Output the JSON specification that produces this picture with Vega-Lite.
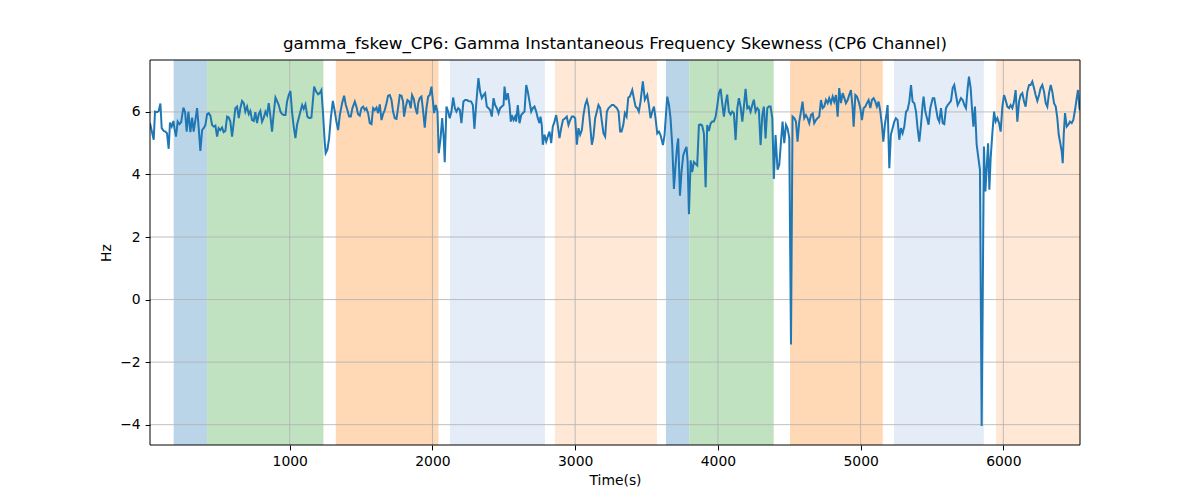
{
  "$schema": "https://vega.github.io/schema/vega-lite/v6.json",
  "description": "Gamma instantaneous frequency skewness, CP6 channel, with condition spans.",
  "width": 930,
  "height": 385,
  "autosize": {"type": "none"},
  "padding": {"left": 150, "top": 60, "right": 120, "bottom": 55},
  "title": {
    "text": "gamma_fskew_CP6: Gamma Instantaneous Frequency Skewness (CP6 Channel)",
    "font": "DejaVu Sans",
    "fontSize": 16.7,
    "fontWeight": "normal",
    "color": "black",
    "anchor": "middle",
    "offset": 7
  },
  "config": {
    "view": {"stroke": null},
    "axis": {
      "grid": false,
      "domain": false,
      "tickColor": "black",
      "tickSize": 4.9,
      "labelPadding": 4.9,
      "labelFont": "DejaVu Sans",
      "labelFontSize": 13.9,
      "labelColor": "black",
      "titleFont": "DejaVu Sans",
      "titleFontSize": 13.9,
      "titleFontWeight": "normal",
      "titleColor": "black"
    }
  },
  "layer": [
    {
      "data": {
        "values": [
          {"start": 187, "end": 421, "condition": "A"},
          {"start": 421, "end": 1236, "condition": "B"},
          {"start": 1323, "end": 2042, "condition": "C"},
          {"start": 2122, "end": 2788, "condition": "D"},
          {"start": 2858, "end": 3573, "condition": "E"},
          {"start": 3636, "end": 3799, "condition": "A"},
          {"start": 3799, "end": 4391, "condition": "B"},
          {"start": 4505, "end": 5155, "condition": "C"},
          {"start": 5234, "end": 5863, "condition": "D"},
          {"start": 5949, "end": 6537, "condition": "E"}
        ]
      },
      "mark": {"type": "rect", "clip": true},
      "encoding": {
        "x": {"field": "start", "type": "quantitative", "title": "Time(s)",
              "scale": {"domain": [21, 6537], "nice": false, "zero": false},
              "axis": {"values": [1000, 2000, 3000, 4000, 5000, 6000], "format": "d", "titlePadding": 5}},
        "x2": {"field": "end"},
        "color": {
          "field": "condition", "type": "nominal", "legend": null,
          "scale": {"domain": ["A", "B", "C", "D", "E"],
                    "range": ["#bbd5e8", "#c0e2c0", "#ffd8b6", "#e4ecf7", "#ffe9d6"]}
        }
      }
    },
    {
      "data": {"values": [{"t": 1000}, {"t": 2000}, {"t": 3000}, {"t": 4000}, {"t": 5000}, {"t": 6000}]},
      "mark": {"type": "rule", "color": "#b0b0b0", "strokeWidth": 0.8},
      "encoding": {
        "x": {"field": "t", "type": "quantitative", "title": "Time(s)"}
      }
    },
    {
      "data": {"values": [{"v": -4}, {"v": -2}, {"v": 0}, {"v": 2}, {"v": 4}, {"v": 6}]},
      "mark": {"type": "rule", "color": "#b0b0b0", "strokeWidth": 0.8},
      "encoding": {
        "y": {"field": "v", "type": "quantitative", "title": "Hz",
              "scale": {"domain": [-4.65, 7.66], "nice": false, "zero": false},
              "axis": {"values": [-4, -2, 0, 2, 4, 6], "titlePadding": 6,
                       "labelExpr": "replace(datum.label, '-', '\u2212')"}}
      }
    },
    {
      "data": {
        "values": [
          {"t": 21, "hz": 5.64}, {"t": 47, "hz": 5.11}, {"t": 56, "hz": 6.01}, {"t": 70, "hz": 5.99}, {"t": 82, "hz": 6.03},
          {"t": 94, "hz": 6.27}, {"t": 103, "hz": 5.48}, {"t": 117, "hz": 5.39}, {"t": 129, "hz": 5.37}, {"t": 140, "hz": 5.32},
          {"t": 152, "hz": 4.82}, {"t": 161, "hz": 5.66}, {"t": 173, "hz": 5.53}, {"t": 185, "hz": 5.71}, {"t": 192, "hz": 5.48},
          {"t": 203, "hz": 5.21}, {"t": 215, "hz": 5.69}, {"t": 227, "hz": 5.61}, {"t": 239, "hz": 5.67}, {"t": 255, "hz": 6.14},
          {"t": 267, "hz": 5.99}, {"t": 278, "hz": 5.37}, {"t": 290, "hz": 6.01}, {"t": 304, "hz": 5.35}, {"t": 316, "hz": 5.82},
          {"t": 327, "hz": 5.37}, {"t": 339, "hz": 5.74}, {"t": 351, "hz": 6.12}, {"t": 362, "hz": 5.50}, {"t": 374, "hz": 4.75},
          {"t": 386, "hz": 5.42}, {"t": 397, "hz": 5.48}, {"t": 409, "hz": 5.58}, {"t": 421, "hz": 5.93}, {"t": 432, "hz": 5.96},
          {"t": 444, "hz": 5.88}, {"t": 456, "hz": 5.58}, {"t": 467, "hz": 5.53}, {"t": 479, "hz": 5.56}, {"t": 491, "hz": 5.21},
          {"t": 502, "hz": 5.48}, {"t": 514, "hz": 5.42}, {"t": 526, "hz": 5.50}, {"t": 537, "hz": 5.35}, {"t": 549, "hz": 5.39},
          {"t": 561, "hz": 5.85}, {"t": 573, "hz": 5.82}, {"t": 584, "hz": 5.69}, {"t": 596, "hz": 5.21}, {"t": 608, "hz": 5.67},
          {"t": 619, "hz": 6.12}, {"t": 631, "hz": 6.17}, {"t": 643, "hz": 5.80}, {"t": 654, "hz": 6.12}, {"t": 666, "hz": 6.35},
          {"t": 678, "hz": 6.28}, {"t": 689, "hz": 6.01}, {"t": 701, "hz": 6.17}, {"t": 713, "hz": 5.93}, {"t": 724, "hz": 6.03},
          {"t": 736, "hz": 5.74}, {"t": 748, "hz": 5.71}, {"t": 759, "hz": 5.99}, {"t": 771, "hz": 5.64}, {"t": 783, "hz": 5.93},
          {"t": 794, "hz": 6.03}, {"t": 806, "hz": 5.69}, {"t": 818, "hz": 5.82}, {"t": 830, "hz": 6.01}, {"t": 841, "hz": 5.90},
          {"t": 853, "hz": 6.28}, {"t": 865, "hz": 5.85}, {"t": 876, "hz": 5.37}, {"t": 888, "hz": 5.96}, {"t": 900, "hz": 6.46},
          {"t": 911, "hz": 6.35}, {"t": 923, "hz": 6.22}, {"t": 935, "hz": 6.01}, {"t": 946, "hz": 5.93}, {"t": 958, "hz": 5.90},
          {"t": 970, "hz": 5.90}, {"t": 981, "hz": 6.33}, {"t": 993, "hz": 6.54}, {"t": 1005, "hz": 6.67}, {"t": 1016, "hz": 6.01},
          {"t": 1028, "hz": 5.53}, {"t": 1040, "hz": 5.16}, {"t": 1051, "hz": 5.58}, {"t": 1063, "hz": 5.80}, {"t": 1075, "hz": 6.01},
          {"t": 1087, "hz": 6.22}, {"t": 1098, "hz": 6.10}, {"t": 1110, "hz": 6.24},
          {"t": 1124, "hz": 5.85}, {"t": 1138, "hz": 5.80}, {"t": 1152, "hz": 5.82}, {"t": 1171, "hz": 6.81}, {"t": 1185, "hz": 6.65},
          {"t": 1199, "hz": 6.56}, {"t": 1210, "hz": 6.60}, {"t": 1222, "hz": 6.70}, {"t": 1234, "hz": 5.90}, {"t": 1245, "hz": 5.05},
          {"t": 1252, "hz": 4.68}, {"t": 1264, "hz": 4.79}, {"t": 1276, "hz": 5.16}, {"t": 1288, "hz": 5.80}, {"t": 1302, "hz": 6.35},
          {"t": 1316, "hz": 6.01}, {"t": 1327, "hz": 5.69}, {"t": 1339, "hz": 5.42}, {"t": 1351, "hz": 5.90}, {"t": 1367, "hz": 6.28},
          {"t": 1381, "hz": 6.52}, {"t": 1393, "hz": 6.22}, {"t": 1404, "hz": 6.06}, {"t": 1416, "hz": 5.85}, {"t": 1428, "hz": 5.85},
          {"t": 1439, "hz": 6.12}, {"t": 1456, "hz": 6.33}, {"t": 1467, "hz": 6.17}, {"t": 1479, "hz": 5.93}, {"t": 1491, "hz": 5.88},
          {"t": 1502, "hz": 6.12}, {"t": 1514, "hz": 6.17}, {"t": 1526, "hz": 6.06}, {"t": 1537, "hz": 6.12}, {"t": 1549, "hz": 5.96},
          {"t": 1561, "hz": 5.64}, {"t": 1573, "hz": 5.61}, {"t": 1584, "hz": 6.12}, {"t": 1596, "hz": 6.06}, {"t": 1608, "hz": 6.14},
          {"t": 1619, "hz": 5.96}, {"t": 1631, "hz": 6.24}, {"t": 1643, "hz": 5.74}, {"t": 1654, "hz": 5.93}, {"t": 1666, "hz": 6.06},
          {"t": 1678, "hz": 6.28}, {"t": 1689, "hz": 6.52}, {"t": 1701, "hz": 6.54}, {"t": 1713, "hz": 6.38}, {"t": 1724, "hz": 6.01},
          {"t": 1736, "hz": 5.80}, {"t": 1748, "hz": 5.78}, {"t": 1759, "hz": 6.12}, {"t": 1771, "hz": 6.54}, {"t": 1783, "hz": 6.52},
          {"t": 1794, "hz": 6.33}, {"t": 1801, "hz": 5.85}, {"t": 1813, "hz": 6.17}, {"t": 1825, "hz": 6.38}, {"t": 1837, "hz": 6.33},
          {"t": 1848, "hz": 6.12}, {"t": 1857, "hz": 6.54}, {"t": 1869, "hz": 6.42}, {"t": 1881, "hz": 6.12}, {"t": 1893, "hz": 5.93},
          {"t": 1900, "hz": 6.28}, {"t": 1911, "hz": 6.44}, {"t": 1923, "hz": 6.49}, {"t": 1935, "hz": 6.01}, {"t": 1946, "hz": 5.50},
          {"t": 1958, "hz": 6.12}, {"t": 1970, "hz": 6.49}, {"t": 1981, "hz": 6.54}, {"t": 1993, "hz": 6.81}, {"t": 2000, "hz": 6.49},
          {"t": 2012, "hz": 5.96}, {"t": 2023, "hz": 6.22}, {"t": 2035, "hz": 6.01}, {"t": 2044, "hz": 4.68}, {"t": 2056, "hz": 5.11},
          {"t": 2068, "hz": 5.80}, {"t": 2079, "hz": 5.16}, {"t": 2086, "hz": 4.39}, {"t": 2098, "hz": 6.17}, {"t": 2110, "hz": 6.01},
          {"t": 2121, "hz": 5.80}, {"t": 2133, "hz": 6.01}, {"t": 2145, "hz": 6.46}, {"t": 2157, "hz": 6.12}, {"t": 2168, "hz": 6.01},
          {"t": 2180, "hz": 6.12}, {"t": 2192, "hz": 6.06}, {"t": 2203, "hz": 5.64},
          {"t": 2217, "hz": 6.33}, {"t": 2229, "hz": 6.38}, {"t": 2241, "hz": 6.38}, {"t": 2252, "hz": 6.35}, {"t": 2271, "hz": 6.33},
          {"t": 2283, "hz": 6.22}, {"t": 2294, "hz": 5.46}, {"t": 2306, "hz": 6.22}, {"t": 2322, "hz": 7.08}, {"t": 2334, "hz": 6.65},
          {"t": 2346, "hz": 6.44}, {"t": 2358, "hz": 6.54}, {"t": 2369, "hz": 6.60}, {"t": 2381, "hz": 6.17}, {"t": 2393, "hz": 6.12},
          {"t": 2404, "hz": 6.06}, {"t": 2416, "hz": 5.85}, {"t": 2428, "hz": 6.44}, {"t": 2439, "hz": 6.22}, {"t": 2451, "hz": 6.12},
          {"t": 2463, "hz": 5.96}, {"t": 2474, "hz": 6.12}, {"t": 2486, "hz": 6.17}, {"t": 2498, "hz": 6.22}, {"t": 2505, "hz": 6.81},
          {"t": 2516, "hz": 6.38}, {"t": 2528, "hz": 6.60}, {"t": 2540, "hz": 6.22}, {"t": 2549, "hz": 5.69}, {"t": 2556, "hz": 5.90},
          {"t": 2568, "hz": 5.74}, {"t": 2579, "hz": 5.85}, {"t": 2586, "hz": 5.69}, {"t": 2598, "hz": 6.22}, {"t": 2610, "hz": 5.64},
          {"t": 2622, "hz": 5.90}, {"t": 2633, "hz": 5.96}, {"t": 2645, "hz": 6.01}, {"t": 2657, "hz": 6.86}, {"t": 2668, "hz": 6.65},
          {"t": 2680, "hz": 6.33}, {"t": 2692, "hz": 6.01}, {"t": 2703, "hz": 6.12}, {"t": 2715, "hz": 6.17}, {"t": 2727, "hz": 6.01},
          {"t": 2738, "hz": 5.80}, {"t": 2750, "hz": 5.64}, {"t": 2757, "hz": 5.85}, {"t": 2766, "hz": 5.58}, {"t": 2773, "hz": 4.95},
          {"t": 2785, "hz": 5.27}, {"t": 2797, "hz": 5.05}, {"t": 2808, "hz": 5.21}, {"t": 2820, "hz": 5.37}, {"t": 2832, "hz": 5.00},
          {"t": 2843, "hz": 5.53}, {"t": 2855, "hz": 5.69}, {"t": 2867, "hz": 5.90}, {"t": 2878, "hz": 5.58}, {"t": 2890, "hz": 5.16},
          {"t": 2902, "hz": 5.48}, {"t": 2914, "hz": 5.74}, {"t": 2930, "hz": 5.80}, {"t": 2941, "hz": 5.85}, {"t": 2953, "hz": 5.58},
          {"t": 2965, "hz": 5.74}, {"t": 2977, "hz": 5.85}, {"t": 2988, "hz": 5.85}, {"t": 3000, "hz": 5.80}, {"t": 3012, "hz": 4.95},
          {"t": 3023, "hz": 5.48}, {"t": 3035, "hz": 5.27}, {"t": 3047, "hz": 5.42}, {"t": 3058, "hz": 5.90}, {"t": 3070, "hz": 6.22},
          {"t": 3082, "hz": 6.38}, {"t": 3093, "hz": 6.17}, {"t": 3105, "hz": 5.58}, {"t": 3117, "hz": 4.95}, {"t": 3128, "hz": 5.21},
          {"t": 3140, "hz": 5.80}, {"t": 3152, "hz": 6.01}, {"t": 3163, "hz": 6.22}, {"t": 3175, "hz": 6.12}, {"t": 3187, "hz": 5.69},
          {"t": 3198, "hz": 5.32}, {"t": 3210, "hz": 5.21}, {"t": 3222, "hz": 6.01}, {"t": 3234, "hz": 6.12}, {"t": 3245, "hz": 6.17},
          {"t": 3257, "hz": 6.22}, {"t": 3269, "hz": 6.22}, {"t": 3280, "hz": 6.17}, {"t": 3292, "hz": 6.12}, {"t": 3304, "hz": 6.01},
          {"t": 3315, "hz": 5.37},
          {"t": 3325, "hz": 5.37}, {"t": 3337, "hz": 5.58}, {"t": 3348, "hz": 5.96}, {"t": 3360, "hz": 5.85}, {"t": 3372, "hz": 6.46},
          {"t": 3383, "hz": 6.49}, {"t": 3400, "hz": 6.70}, {"t": 3411, "hz": 6.44}, {"t": 3423, "hz": 6.17}, {"t": 3435, "hz": 6.12},
          {"t": 3446, "hz": 6.01}, {"t": 3458, "hz": 6.33}, {"t": 3474, "hz": 6.98}, {"t": 3488, "hz": 6.39}, {"t": 3505, "hz": 6.55},
          {"t": 3516, "hz": 6.23}, {"t": 3528, "hz": 5.80}, {"t": 3540, "hz": 6.01}, {"t": 3552, "hz": 6.17}, {"t": 3563, "hz": 5.80},
          {"t": 3575, "hz": 5.31}, {"t": 3587, "hz": 5.37}, {"t": 3598, "hz": 5.26}, {"t": 3615, "hz": 4.94}, {"t": 3626, "hz": 5.26},
          {"t": 3645, "hz": 6.49}, {"t": 3657, "hz": 6.23}, {"t": 3668, "hz": 5.80}, {"t": 3680, "hz": 4.94}, {"t": 3692, "hz": 3.54},
          {"t": 3703, "hz": 4.29}, {"t": 3715, "hz": 4.94}, {"t": 3722, "hz": 5.15}, {"t": 3734, "hz": 3.32}, {"t": 3745, "hz": 4.08},
          {"t": 3757, "hz": 4.61}, {"t": 3769, "hz": 4.77}, {"t": 3780, "hz": 4.88}, {"t": 3788, "hz": 4.40}, {"t": 3797, "hz": 2.73},
          {"t": 3809, "hz": 4.45}, {"t": 3820, "hz": 4.08}, {"t": 3832, "hz": 4.40}, {"t": 3844, "hz": 4.34}, {"t": 3855, "hz": 4.29},
          {"t": 3867, "hz": 5.58}, {"t": 3879, "hz": 5.60}, {"t": 3890, "hz": 5.56}, {"t": 3902, "hz": 5.31}, {"t": 3914, "hz": 3.59},
          {"t": 3925, "hz": 5.58}, {"t": 3937, "hz": 5.39}, {"t": 3949, "hz": 5.63}, {"t": 3960, "hz": 5.69}, {"t": 3972, "hz": 5.69},
          {"t": 3984, "hz": 5.85}, {"t": 3995, "hz": 6.17}, {"t": 4007, "hz": 6.60}, {"t": 4019, "hz": 6.74}, {"t": 4030, "hz": 6.28},
          {"t": 4042, "hz": 5.85}, {"t": 4054, "hz": 6.28}, {"t": 4065, "hz": 6.55}, {"t": 4077, "hz": 6.01}, {"t": 4089, "hz": 5.92},
          {"t": 4100, "hz": 6.01}, {"t": 4112, "hz": 5.96}, {"t": 4124, "hz": 5.10}, {"t": 4136, "hz": 6.12}, {"t": 4147, "hz": 6.44},
          {"t": 4159, "hz": 6.17}, {"t": 4171, "hz": 5.69}, {"t": 4182, "hz": 6.17}, {"t": 4194, "hz": 6.74}, {"t": 4206, "hz": 6.12},
          {"t": 4217, "hz": 6.17}, {"t": 4229, "hz": 6.01}, {"t": 4241, "hz": 6.23}, {"t": 4252, "hz": 6.39}, {"t": 4264, "hz": 6.01},
          {"t": 4276, "hz": 6.12}, {"t": 4287, "hz": 6.06}, {"t": 4299, "hz": 4.94}, {"t": 4311, "hz": 5.90}, {"t": 4322, "hz": 6.17},
          {"t": 4334, "hz": 5.15}, {"t": 4346, "hz": 6.12}, {"t": 4357, "hz": 6.17}, {"t": 4369, "hz": 6.17}, {"t": 4381, "hz": 5.80},
          {"t": 4392, "hz": 3.86}, {"t": 4404, "hz": 5.26},
          {"t": 4418, "hz": 4.15}, {"t": 4430, "hz": 4.31}, {"t": 4442, "hz": 5.05}, {"t": 4453, "hz": 5.69}, {"t": 4465, "hz": 5.00},
          {"t": 4477, "hz": 5.59}, {"t": 4488, "hz": 5.48}, {"t": 4500, "hz": 5.16}, {"t": 4512, "hz": -1.44}, {"t": 4523, "hz": 5.85},
          {"t": 4535, "hz": 5.80}, {"t": 4547, "hz": 5.69}, {"t": 4558, "hz": 5.05}, {"t": 4570, "hz": 5.69}, {"t": 4582, "hz": 6.01},
          {"t": 4593, "hz": 6.33}, {"t": 4605, "hz": 5.80}, {"t": 4617, "hz": 5.90}, {"t": 4628, "hz": 5.80}, {"t": 4640, "hz": 5.64},
          {"t": 4652, "hz": 5.90}, {"t": 4664, "hz": 5.95}, {"t": 4675, "hz": 5.64}, {"t": 4687, "hz": 5.74}, {"t": 4698, "hz": 5.80},
          {"t": 4710, "hz": 5.85}, {"t": 4722, "hz": 6.38}, {"t": 4734, "hz": 6.12}, {"t": 4745, "hz": 6.17}, {"t": 4757, "hz": 6.38},
          {"t": 4769, "hz": 6.28}, {"t": 4780, "hz": 6.44}, {"t": 4792, "hz": 6.28}, {"t": 4804, "hz": 6.49}, {"t": 4815, "hz": 6.33},
          {"t": 4827, "hz": 6.54}, {"t": 4839, "hz": 5.85}, {"t": 4850, "hz": 6.76}, {"t": 4862, "hz": 6.28}, {"t": 4874, "hz": 6.60},
          {"t": 4886, "hz": 6.44}, {"t": 4897, "hz": 6.28}, {"t": 4909, "hz": 6.38}, {"t": 4920, "hz": 6.54}, {"t": 4932, "hz": 6.70},
          {"t": 4944, "hz": 6.12}, {"t": 4951, "hz": 5.53}, {"t": 4963, "hz": 6.54}, {"t": 4974, "hz": 6.49}, {"t": 4986, "hz": 6.33},
          {"t": 4998, "hz": 6.12}, {"t": 5009, "hz": 5.74}, {"t": 5021, "hz": 6.12}, {"t": 5033, "hz": 6.17}, {"t": 5044, "hz": 6.28},
          {"t": 5056, "hz": 6.38}, {"t": 5068, "hz": 6.12}, {"t": 5079, "hz": 6.38}, {"t": 5091, "hz": 6.44}, {"t": 5103, "hz": 6.33},
          {"t": 5114, "hz": 6.17}, {"t": 5126, "hz": 6.33}, {"t": 5138, "hz": 6.01}, {"t": 5149, "hz": 5.59}, {"t": 5159, "hz": 5.05},
          {"t": 5170, "hz": 5.59}, {"t": 5182, "hz": 5.96}, {"t": 5189, "hz": 6.22}, {"t": 5201, "hz": 4.20}, {"t": 5212, "hz": 5.27},
          {"t": 5224, "hz": 5.48}, {"t": 5236, "hz": 5.69}, {"t": 5247, "hz": 5.80}, {"t": 5259, "hz": 5.74}, {"t": 5271, "hz": 5.11},
          {"t": 5282, "hz": 5.48}, {"t": 5294, "hz": 5.32}, {"t": 5306, "hz": 5.53}, {"t": 5318, "hz": 6.01}, {"t": 5329, "hz": 6.06},
          {"t": 5341, "hz": 6.33}, {"t": 5353, "hz": 6.86}, {"t": 5364, "hz": 6.33}, {"t": 5376, "hz": 6.28}, {"t": 5388, "hz": 6.01},
          {"t": 5399, "hz": 5.48}, {"t": 5411, "hz": 5.05}, {"t": 5423, "hz": 5.59}, {"t": 5434, "hz": 6.22}, {"t": 5441, "hz": 6.49},
          {"t": 5453, "hz": 6.01}, {"t": 5465, "hz": 5.80}, {"t": 5476, "hz": 5.59}, {"t": 5488, "hz": 6.12},
          {"t": 5505, "hz": 6.44}, {"t": 5516, "hz": 6.44}, {"t": 5528, "hz": 6.12}, {"t": 5540, "hz": 5.80}, {"t": 5551, "hz": 5.69},
          {"t": 5563, "hz": 6.12}, {"t": 5575, "hz": 5.64}, {"t": 5586, "hz": 5.61}, {"t": 5598, "hz": 6.12}, {"t": 5610, "hz": 6.22},
          {"t": 5621, "hz": 6.28}, {"t": 5633, "hz": 6.35}, {"t": 5645, "hz": 6.76}, {"t": 5656, "hz": 6.86}, {"t": 5668, "hz": 6.54},
          {"t": 5680, "hz": 6.22}, {"t": 5692, "hz": 6.33}, {"t": 5703, "hz": 6.44}, {"t": 5715, "hz": 6.38}, {"t": 5727, "hz": 6.22},
          {"t": 5738, "hz": 6.12}, {"t": 5750, "hz": 6.76}, {"t": 5759, "hz": 7.13}, {"t": 5771, "hz": 6.76}, {"t": 5780, "hz": 6.12},
          {"t": 5790, "hz": 5.53}, {"t": 5801, "hz": 6.17}, {"t": 5813, "hz": 4.95}, {"t": 5825, "hz": 4.52}, {"t": 5836, "hz": 4.15},
          {"t": 5848, "hz": -4.04}, {"t": 5864, "hz": 4.89}, {"t": 5874, "hz": 3.46}, {"t": 5883, "hz": 4.20}, {"t": 5893, "hz": 5.00},
          {"t": 5902, "hz": 3.51}, {"t": 5911, "hz": 4.52}, {"t": 5923, "hz": 5.32}, {"t": 5935, "hz": 6.01}, {"t": 5946, "hz": 5.69},
          {"t": 5958, "hz": 5.80}, {"t": 5970, "hz": 5.64}, {"t": 5981, "hz": 5.37}, {"t": 5993, "hz": 6.17}, {"t": 6005, "hz": 6.54},
          {"t": 6016, "hz": 6.38}, {"t": 6028, "hz": 6.17}, {"t": 6040, "hz": 6.12}, {"t": 6051, "hz": 6.22}, {"t": 6063, "hz": 6.12},
          {"t": 6075, "hz": 6.33}, {"t": 6086, "hz": 6.70}, {"t": 6098, "hz": 5.69}, {"t": 6110, "hz": 6.33}, {"t": 6121, "hz": 6.54},
          {"t": 6133, "hz": 6.60}, {"t": 6145, "hz": 6.33}, {"t": 6156, "hz": 6.17}, {"t": 6168, "hz": 6.65}, {"t": 6180, "hz": 6.86},
          {"t": 6191, "hz": 6.86}, {"t": 6203, "hz": 6.97}, {"t": 6215, "hz": 6.76}, {"t": 6226, "hz": 6.54}, {"t": 6238, "hz": 6.35},
          {"t": 6250, "hz": 6.54}, {"t": 6261, "hz": 6.76}, {"t": 6273, "hz": 6.86}, {"t": 6285, "hz": 6.65}, {"t": 6297, "hz": 6.28},
          {"t": 6308, "hz": 6.17}, {"t": 6320, "hz": 6.60}, {"t": 6332, "hz": 6.86}, {"t": 6343, "hz": 6.65}, {"t": 6355, "hz": 6.28},
          {"t": 6367, "hz": 6.17}, {"t": 6378, "hz": 5.80}, {"t": 6388, "hz": 5.27}, {"t": 6397, "hz": 5.05}, {"t": 6409, "hz": 4.73},
          {"t": 6416, "hz": 4.36}, {"t": 6423, "hz": 5.27}, {"t": 6432, "hz": 5.96}, {"t": 6444, "hz": 5.53}, {"t": 6455, "hz": 5.59},
          {"t": 6467, "hz": 5.69}, {"t": 6479, "hz": 5.64}, {"t": 6490, "hz": 5.74}, {"t": 6502, "hz": 6.06}, {"t": 6514, "hz": 6.44},
          {"t": 6523, "hz": 6.70}, {"t": 6533, "hz": 6.12}, {"t": 6537, "hz": 6.05}
        ]
      },
      "mark": {"type": "line", "color": "#1f77b4", "strokeWidth": 2, "clip": true},
      "encoding": {
        "x": {"field": "t", "type": "quantitative", "title": "Time(s)"},
        "y": {"field": "hz", "type": "quantitative", "title": "Hz"}
      }
    },
    {
      "data": {"values": [{}]},
      "mark": {"type": "rect", "fill": "transparent", "stroke": "black", "strokeWidth": 1},
      "encoding": {}
    }
  ]
}
